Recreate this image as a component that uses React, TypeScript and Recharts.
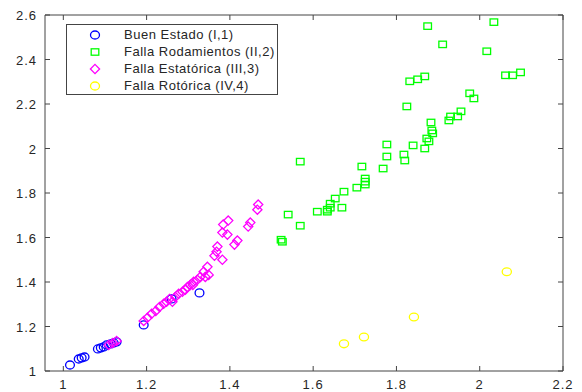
import React from 'react';
import { ScatterChart, Scatter, XAxis, YAxis } from 'recharts';

// ---- data ----
const buenEstadoX = [1.016, 1.037, 1.044, 1.051, 1.083, 1.09, 1.097, 1.104, 1.114, 1.121, 1.128, 1.193, 1.26, 1.327];
const buenEstadoY = [1.027, 1.054, 1.059, 1.063, 1.099, 1.104, 1.108, 1.117, 1.122, 1.126, 1.131, 1.207, 1.324, 1.351];

const rodamientosX = [1.523, 1.526, 1.54, 1.569, 1.569, 1.61, 1.634, 1.634, 1.641, 1.641, 1.653, 1.669, 1.674, 1.705, 1.717, 1.725, 1.725, 1.725, 1.768, 1.777, 1.777, 1.818, 1.82, 1.825, 1.832, 1.851, 1.868, 1.84, 1.868, 1.873, 1.878, 1.883, 1.885, 1.887, 1.875, 1.911, 1.926, 1.93, 1.947, 1.955, 1.976, 1.986, 2.017, 2.034, 2.062, 2.079, 2.098];
const rodamientosY = [1.59, 1.581, 1.703, 1.653, 1.941, 1.716, 1.725, 1.716, 1.752, 1.734, 1.775, 1.734, 1.806, 1.824, 1.919, 1.865, 1.851, 1.838, 1.91, 1.964, 2.018, 1.973, 1.946, 2.189, 2.302, 2.311, 2.324, 2.014, 2.0, 2.045, 2.032, 2.117, 2.081, 2.068, 2.55, 2.468, 2.126, 2.144, 2.144, 2.167, 2.248, 2.225, 2.437, 2.568, 2.329, 2.329, 2.342];

const estatoricaX = [1.109, 1.119, 1.128, 1.193, 1.202, 1.212, 1.222, 1.231, 1.241, 1.248, 1.255, 1.262, 1.269, 1.277, 1.286, 1.293, 1.298, 1.305, 1.313, 1.311, 1.322, 1.329, 1.337, 1.341, 1.346, 1.349, 1.363, 1.368, 1.37, 1.382, 1.382, 1.394, 1.384, 1.396, 1.411, 1.418, 1.444, 1.449, 1.466, 1.468];
const estatoricaY = [1.117, 1.126, 1.135, 1.225, 1.239, 1.257, 1.27, 1.288, 1.302, 1.311, 1.324, 1.311, 1.333, 1.347, 1.356, 1.365, 1.378, 1.387, 1.401, 1.387, 1.41, 1.423, 1.446, 1.423, 1.468, 1.432, 1.518, 1.536, 1.559, 1.5, 1.622, 1.613, 1.658, 1.676, 1.568, 1.586, 1.649, 1.667, 1.725, 1.748];

const rotoricaX = [1.674, 1.722, 1.842, 2.065];
const rotoricaY = [1.122, 1.153, 1.243, 1.446];

const xTicks = [1, 1.2, 1.4, 1.6, 1.8, 2, 2.2];
const yTicks = [1, 1.2, 1.4, 1.6, 1.8, 2, 2.2, 2.4, 2.6];

const seriesNames = ['Buen Estado (I,1)', 'Falla Rodamientos (II,2)', 'Falla Estatórica (III,3)', 'Falla Rotórica (IV,4)'];
const seriesColors = ['#0000ff', '#00ff00', '#ff00ff', '#ffff00'];

const zip = (xs: number[], ys: number[]) => xs.map((x, i) => ({ x, y: ys[i] }));
const buenData = zip(buenEstadoX, buenEstadoY);
const rodData = zip(rodamientosX, rodamientosY);
const estData = zip(estatoricaX, estatoricaY);
const rotData = zip(rotoricaX, rotoricaY);

const AXIS = '#444444';
const TEXT = '#262626';
const FONT = '"Liberation Sans", Arial, sans-serif';
const SW = 1.3;

type MP = { cx?: number; cy?: number };

const circleShape = (color: string, rx: number, ry: number) => (p: MP) =>
  <ellipse cx={p.cx} cy={p.cy} rx={rx} ry={ry} fill="none" stroke={color} strokeWidth={SW} />;
const squareShape = (color: string) => (p: MP) =>
  <rect x={(p.cx as number) - 3.8} y={(p.cy as number) - 3.2} width={7.6} height={6.4} fill="none" stroke={color} strokeWidth={SW} />;
const diamondShape = (color: string) => (p: MP) => {
  const cx = p.cx as number, cy = p.cy as number;
  return <polygon points={`${cx},${cy - 4.6} ${cx + 4.6},${cy} ${cx},${cy + 4.6} ${cx - 4.6},${cy}`} fill="none" stroke={color} strokeWidth={SW} />;
};
const emptyShape = () => <g />;

const fmt = (v: number) => String(v);

const BottomTick = (p: any) => (
  <g>
    <line x1={p.x} x2={p.x} y1={p.y} y2={p.y - 5} stroke={AXIS} />
    <text x={p.x} y={p.y + 17.5} textAnchor="middle" fontSize={13} letterSpacing={1} fill={TEXT} fontFamily={FONT}>{fmt(p.payload.value)}</text>
  </g>
);
const LeftTick = (p: any) => (
  <g>
    <line x1={p.x} x2={p.x + 5} y1={p.y} y2={p.y} stroke={AXIS} />
    <text x={p.x - 8} y={p.y + 5} textAnchor="end" fontSize={13} letterSpacing={1} fill={TEXT} fontFamily={FONT}>{fmt(p.payload.value)}</text>
  </g>
);
const TopTick = (p: any) => <line x1={p.x} x2={p.x} y1={p.y} y2={p.y + 5} stroke={AXIS} />;
const RightTick = (p: any) => <line x1={p.x} x2={p.x - 5} y1={p.y} y2={p.y} stroke={AXIS} />;

const legendIcon = (i: number) => {
  const c = seriesColors[i];
  if (i === 0 || i === 3) return <ellipse cx={8} cy={7} rx={4.5} ry={4} fill="none" stroke={c} strokeWidth={SW} />;
  if (i === 1) return <rect x={4.2} y={3.8} width={7.6} height={6.4} fill="none" stroke={c} strokeWidth={SW} />;
  return <polygon points="8,2.4 12.6,7 8,11.6 3.4,7" fill="none" stroke={c} strokeWidth={SW} />;
};

const LegendBox = () => (
  <div style={{ position: 'absolute', left: 66, top: 24, width: 210, height: 69, border: `1px solid ${AXIS}`, background: '#fff', fontFamily: FONT, fontSize: 13, letterSpacing: 0.5, color: TEXT }}>
    {seriesNames.map((n, i) => (
      <div key={n} style={{ position: 'absolute', left: 0, top: 3 + i * 17, height: 14, display: 'flex', alignItems: 'center', whiteSpace: 'nowrap' }}>
        <svg width={16} height={14} style={{ marginLeft: 20 }}>{legendIcon(i)}</svg>
        <span style={{ marginLeft: 21, lineHeight: '14px' }}>{n}</span>
      </div>
    ))}
  </div>
);

export default function App() {
  return (
    <div style={{ position: 'absolute', left: 0, top: 0, width: 582, height: 392, background: '#fff' }}>
      <ScatterChart width={582} height={392} margin={{ top: 14, right: 18, bottom: 0, left: 0 }}>
        <XAxis xAxisId={0} type="number" dataKey="x" domain={[0.956, 2.2]} ticks={xTicks} interval={0} allowDataOverflow
          tickLine={false} tickSize={0} tickMargin={0} height={21} stroke={AXIS} tick={<BottomTick />} />
        <XAxis xAxisId="top" orientation="top" type="number" dataKey="x" domain={[0.956, 2.2]} ticks={xTicks} interval={0} allowDataOverflow
          tickLine={false} tickSize={0} tickMargin={0} height={1} stroke={AXIS} tick={<TopTick />} />
        <YAxis yAxisId={0} type="number" dataKey="y" domain={[1, 2.6]} ticks={yTicks} interval={0} allowDataOverflow
          tickLine={false} tickSize={0} tickMargin={0} width={45} stroke={AXIS} tick={<LeftTick />} />
        <YAxis yAxisId="right" orientation="right" type="number" dataKey="y" domain={[1, 2.6]} ticks={yTicks} interval={0} allowDataOverflow
          tickLine={false} tickSize={0} tickMargin={0} width={1} stroke={AXIS} tick={<RightTick />} />
        <Scatter xAxisId="top" yAxisId="right" data={rotData} isAnimationActive={false} shape={emptyShape} legendType="none" />
        <Scatter name={seriesNames[1]} data={rodData} isAnimationActive={false} shape={squareShape(seriesColors[1])} />
        <Scatter name={seriesNames[3]} data={rotData} isAnimationActive={false} shape={circleShape(seriesColors[3], 4.6, 3.9)} />
        <Scatter name={seriesNames[0]} data={buenData} isAnimationActive={false} shape={circleShape(seriesColors[0], 4.4, 4)} />
        <Scatter name={seriesNames[2]} data={estData} isAnimationActive={false} shape={diamondShape(seriesColors[2])} />
      </ScatterChart>
      <LegendBox />
    </div>
  );
}
